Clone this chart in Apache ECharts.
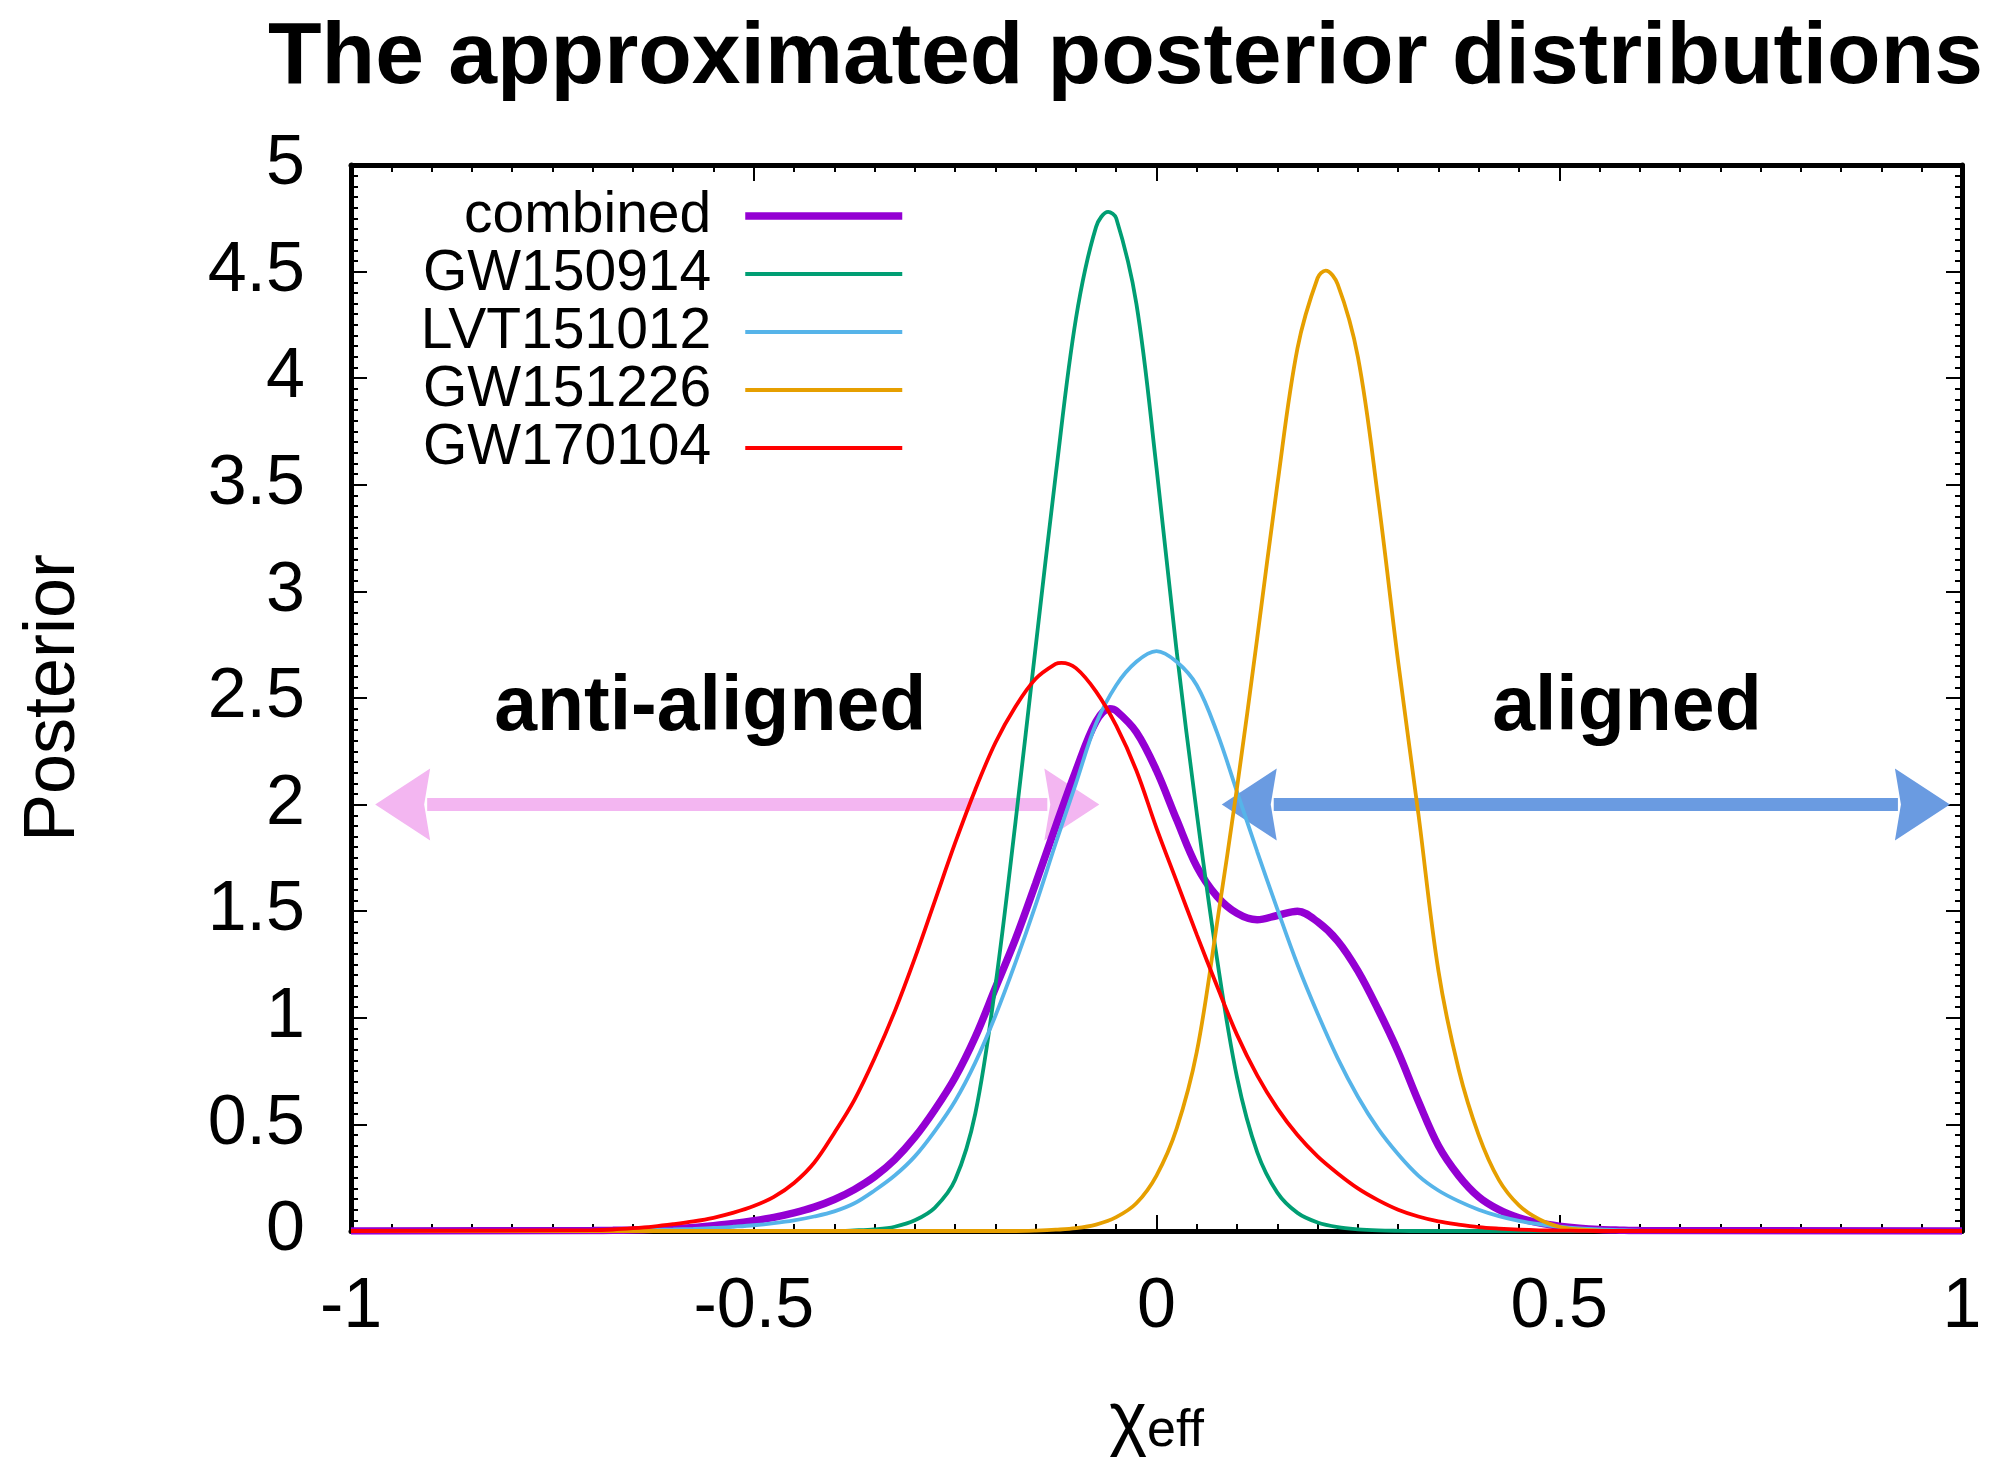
<!DOCTYPE html>
<html>
<head>
<meta charset="utf-8">
<script src="https://cdn.jsdelivr.net/npm/echarts@6/dist/echarts.min.js"></script>
<style>html,body{margin:0;padding:0;background:#fff;}#c{width:1992px;height:1463px;}</style>
</head>
<body>
<div id="c"></div>
<script>
// ---- data ----
const xGrid = [-0.7,-0.675,-0.65,-0.625,-0.6,-0.575,-0.55,-0.525,-0.5,-0.475,-0.45,-0.425,-0.4,-0.375,-0.35,-0.325,-0.3,-0.275,-0.25,-0.225,-0.2,-0.175,-0.15,-0.125,-0.1,-0.075,-0.05,-0.025,0,0.025,0.05,0.075,0.1,0.125,0.15,0.175,0.2,0.225,0.25,0.275,0.3,0.325,0.35,0.375,0.4,0.425,0.45,0.475,0.5,0.525,0.55,0.575,0.6];
const seriesNames = ['combined','GW150914','LVT151012','GW151226','GW170104'];
const combined = [0.002,0.003,0.005,0.008,0.012,0.017,0.025,0.035,0.048,0.064,0.085,0.112,0.148,0.195,0.255,0.335,0.44,0.57,0.72,0.91,1.14,1.37,1.63,1.90,2.16,2.39,2.44,2.34,2.16,1.93,1.71,1.57,1.49,1.46,1.48,1.50,1.45,1.36,1.22,1.04,0.84,0.61,0.40,0.26,0.16,0.10,0.062,0.038,0.023,0.013,0.007,0.004,0.002];
const gw150914 = [0,0,0,0,0,0,0,0,0,0,0,0,0,0.003,0.008,0.02,0.05,0.11,0.24,0.55,1.15,1.92,2.74,3.55,4.28,4.71,4.75,4.35,3.58,2.72,1.96,1.28,0.72,0.37,0.18,0.085,0.04,0.018,0.008,0.003,0.001,0,0,0,0,0,0,0,0,0,0,0,0];
const lvt151012 = [0.001,0.002,0.003,0.005,0.007,0.01,0.014,0.02,0.027,0.037,0.05,0.068,0.092,0.13,0.19,0.26,0.35,0.47,0.61,0.79,1.01,1.26,1.53,1.82,2.10,2.38,2.56,2.67,2.72,2.67,2.56,2.34,2.06,1.78,1.51,1.25,1.02,0.81,0.63,0.48,0.36,0.26,0.19,0.14,0.10,0.07,0.048,0.032,0.02,0.012,0.007,0.004,0.002];
const gw151226 = [0,0,0,0,0,0,0,0,0,0,0,0,0,0,0,0,0,0,0,0,0,0,0.002,0.006,0.013,0.03,0.065,0.13,0.26,0.48,0.84,1.44,2.08,2.78,3.50,4.14,4.47,4.44,4.10,3.44,2.67,1.96,1.22,0.76,0.45,0.24,0.12,0.055,0.02,0.007,0.002,0,0];
const gw170104 = [0.004,0.007,0.013,0.021,0.032,0.045,0.062,0.086,0.117,0.16,0.225,0.32,0.46,0.615,0.81,1.03,1.28,1.55,1.82,2.07,2.29,2.46,2.59,2.66,2.64,2.53,2.37,2.16,1.89,1.64,1.39,1.15,0.92,0.73,0.575,0.45,0.35,0.27,0.2,0.145,0.10,0.068,0.045,0.03,0.018,0.011,0.006,0.003,0.002,0.001,0,0,0];
// peak positions, one per series (same order as seriesNames)
const peakX = [-0.058,-0.06,0.0,0.21,-0.118];
const peakY = [2.45,4.78,2.72,4.505,2.665];
const xTicks = [-1,-0.5,0,0.5,1];
const yTicks = [0,0.5,1,1.5,2,2.5,3,3.5,4,4.5,5];
// arrows: [xStart, xEnd, y]
const arrowSpans = [[-0.97,-0.071,2],[0.081,0.985,2]];
// annotations: [x, y]
const annoPos = [[-0.554,2.45],[0.584,2.45]];
const annoText = ['anti-aligned','aligned'];

// ---- styling ----
const colors = ['#9400d3','#009e73','#56b4e9','#e69f00','#ff0000'];
const widths = [7.5,3.8,3.8,3.8,3.8];
const arrowColors = ['#f3b6f1','#6a9be1'];
const FONT = 'Liberation Sans, Arial, Helvetica, sans-serif';

function pairs(vals, px, py){
  const out = [[-1,0]];
  for (let i=0;i<xGrid.length;i++){
    if (Math.abs(xGrid[i]-px) < 1e-9) continue;
    out.push([xGrid[i], vals[i]]);
  }
  out.push([px, py]);
  out.push([1,0]);
  out.sort((a,b)=>a[0]-b[0]);
  return out;
}
const valueSets = [combined,gw150914,lvt151012,gw151226,gw170104];

const chart = echarts.init(document.getElementById('c'), null, {width:1992, height:1463});

function xAxisCfg(pos, showLabel){
  return {
    type:'value', min:-1, max:1, interval:0.5, position:pos,
    axisLine:{show:true, onZero:false, lineStyle:{color:'#000', width:5}},
    axisTick:{show:true, inside:true, length:16, lineStyle:{color:'#000', width:2}},
    minorTick:{show:true, splitNumber:10, length:7, lineStyle:{color:'#000', width:2}},
    splitLine:{show:false},
    axisLabel:{show:showLabel, fontSize:70, color:'#000', fontFamily:FONT, margin:42,
      formatter: v => xTicks.includes(v) ? String(v) : ''}
  };
}
function yAxisCfg(pos, showLabel){
  return {
    type:'value', min:0, max:5, interval:0.5, position:pos,
    axisLine:{show:true, onZero:false, lineStyle:{color:'#000', width:5}},
    axisTick:{show:true, inside:true, length:16, lineStyle:{color:'#000', width:2}},
    minorTick:{show:true, splitNumber:10, length:7, lineStyle:{color:'#000', width:2}},
    splitLine:{show:false},
    axisLabel:{show:showLabel, fontSize:70, color:'#000', fontFamily:FONT, margin:46,
      formatter: v => yTicks.includes(v) ? String(v) : ''}
  };
}

const xMain = xAxisCfg('bottom', true);
xMain.name = '{c|χ}{s|eff}';
xMain.nameLocation = 'middle';
xMain.nameGap = 147;
xMain.nameTextStyle = {rich:{
  c:{fontSize:72, fontFamily:FONT, color:'#000', lineHeight:80, verticalAlign:'bottom'},
  s:{fontSize:52, fontFamily:FONT, color:'#000', lineHeight:52, verticalAlign:'bottom'}
}};
const yMain = yAxisCfg('left', true);
yMain.name = 'Posterior';
yMain.nameLocation = 'middle';
yMain.nameRotate = 90;
yMain.nameGap = 261;
yMain.nameTextStyle = {fontSize:72, fontFamily:FONT, color:'#000'};

const lineSeries = seriesNames.map((n,i)=>({
  name:n, type:'line', data:pairs(valueSets[i], peakX[i], peakY[i]), xAxisIndex:0, yAxisIndex:0,
  showSymbol:false, symbol:'none', smooth:0.35,
  lineStyle:{color:colors[i], width:widths[i]}, itemStyle:{color:colors[i]},
  z:3+i*0.01, clip:true
}));

const arrowSeries = {
  type:'custom', coordinateSystem:'cartesian2d', xAxisIndex:0, yAxisIndex:0,
  data: arrowSpans, encode:{x:[0,1], y:2}, z:2, silent:true,
  renderItem:(params, api)=>{
    const a = api.coord([api.value(0), api.value(2)]);
    const b = api.coord([api.value(1), api.value(2)]);
    const col = arrowColors[params.dataIndex];
    const hl = 55, hw = 36, sw = 6.5;
    return {type:'group', children:[
      {type:'rect', shape:{x:a[0]+hl-3, y:a[1]-sw, width:(b[0]-a[0])-2*hl+6, height:2*sw}, style:{fill:col}},
      {type:'polygon', shape:{points:[[a[0],a[1]],[a[0]+hl,a[1]-hw],[a[0]+hl-6,a[1]],[a[0]+hl,a[1]+hw]]}, style:{fill:col}},
      {type:'polygon', shape:{points:[[b[0],b[1]],[b[0]-hl,b[1]-hw],[b[0]-hl+6,b[1]],[b[0]-hl,b[1]+hw]]}, style:{fill:col}}
    ]};
  }
};

const annoSeries = {
  type:'custom', coordinateSystem:'cartesian2d', xAxisIndex:0, yAxisIndex:0,
  data: annoPos, encode:{x:0, y:1}, z:4, silent:true,
  renderItem:(params, api)=>{
    const p = api.coord([api.value(0), api.value(1)]);
    return {type:'text', x:p[0], y:p[1], style:{text:annoText[params.dataIndex], fill:'#000',
      font:'bold 77px ' + FONT, textAlign:'center', textVerticalAlign:'middle'}};
  }
};

chart.setOption({
  animation:false,
  backgroundColor:'#fff',
  title:{text:'The approximated posterior distributions', left:268, top:15, padding:0,
    textStyle:{fontSize:87.7, fontWeight:'bold', fontFamily:FONT, color:'#000'}},
  grid:{left:351, top:165, width:1611, height:1074, containLabel:false},
  legend:{data:seriesNames, orient:'vertical', align:'right', right:1086, top:187, padding:0,
    itemWidth:157, itemHeight:20, itemGap:0, selectedMode:false,
    itemStyle:{opacity:0, borderWidth:0},
    lineStyle:{width:'inherit'},
    textStyle:{fontSize:57, fontFamily:FONT, color:'#000', lineHeight:58, padding:[0,29,0,0]}},
  xAxis:[xMain, xAxisCfg('top', false)],
  yAxis:[yMain, yAxisCfg('right', false)],
  series:[arrowSeries, ...lineSeries, annoSeries]
});
</script>
</body>
</html>
